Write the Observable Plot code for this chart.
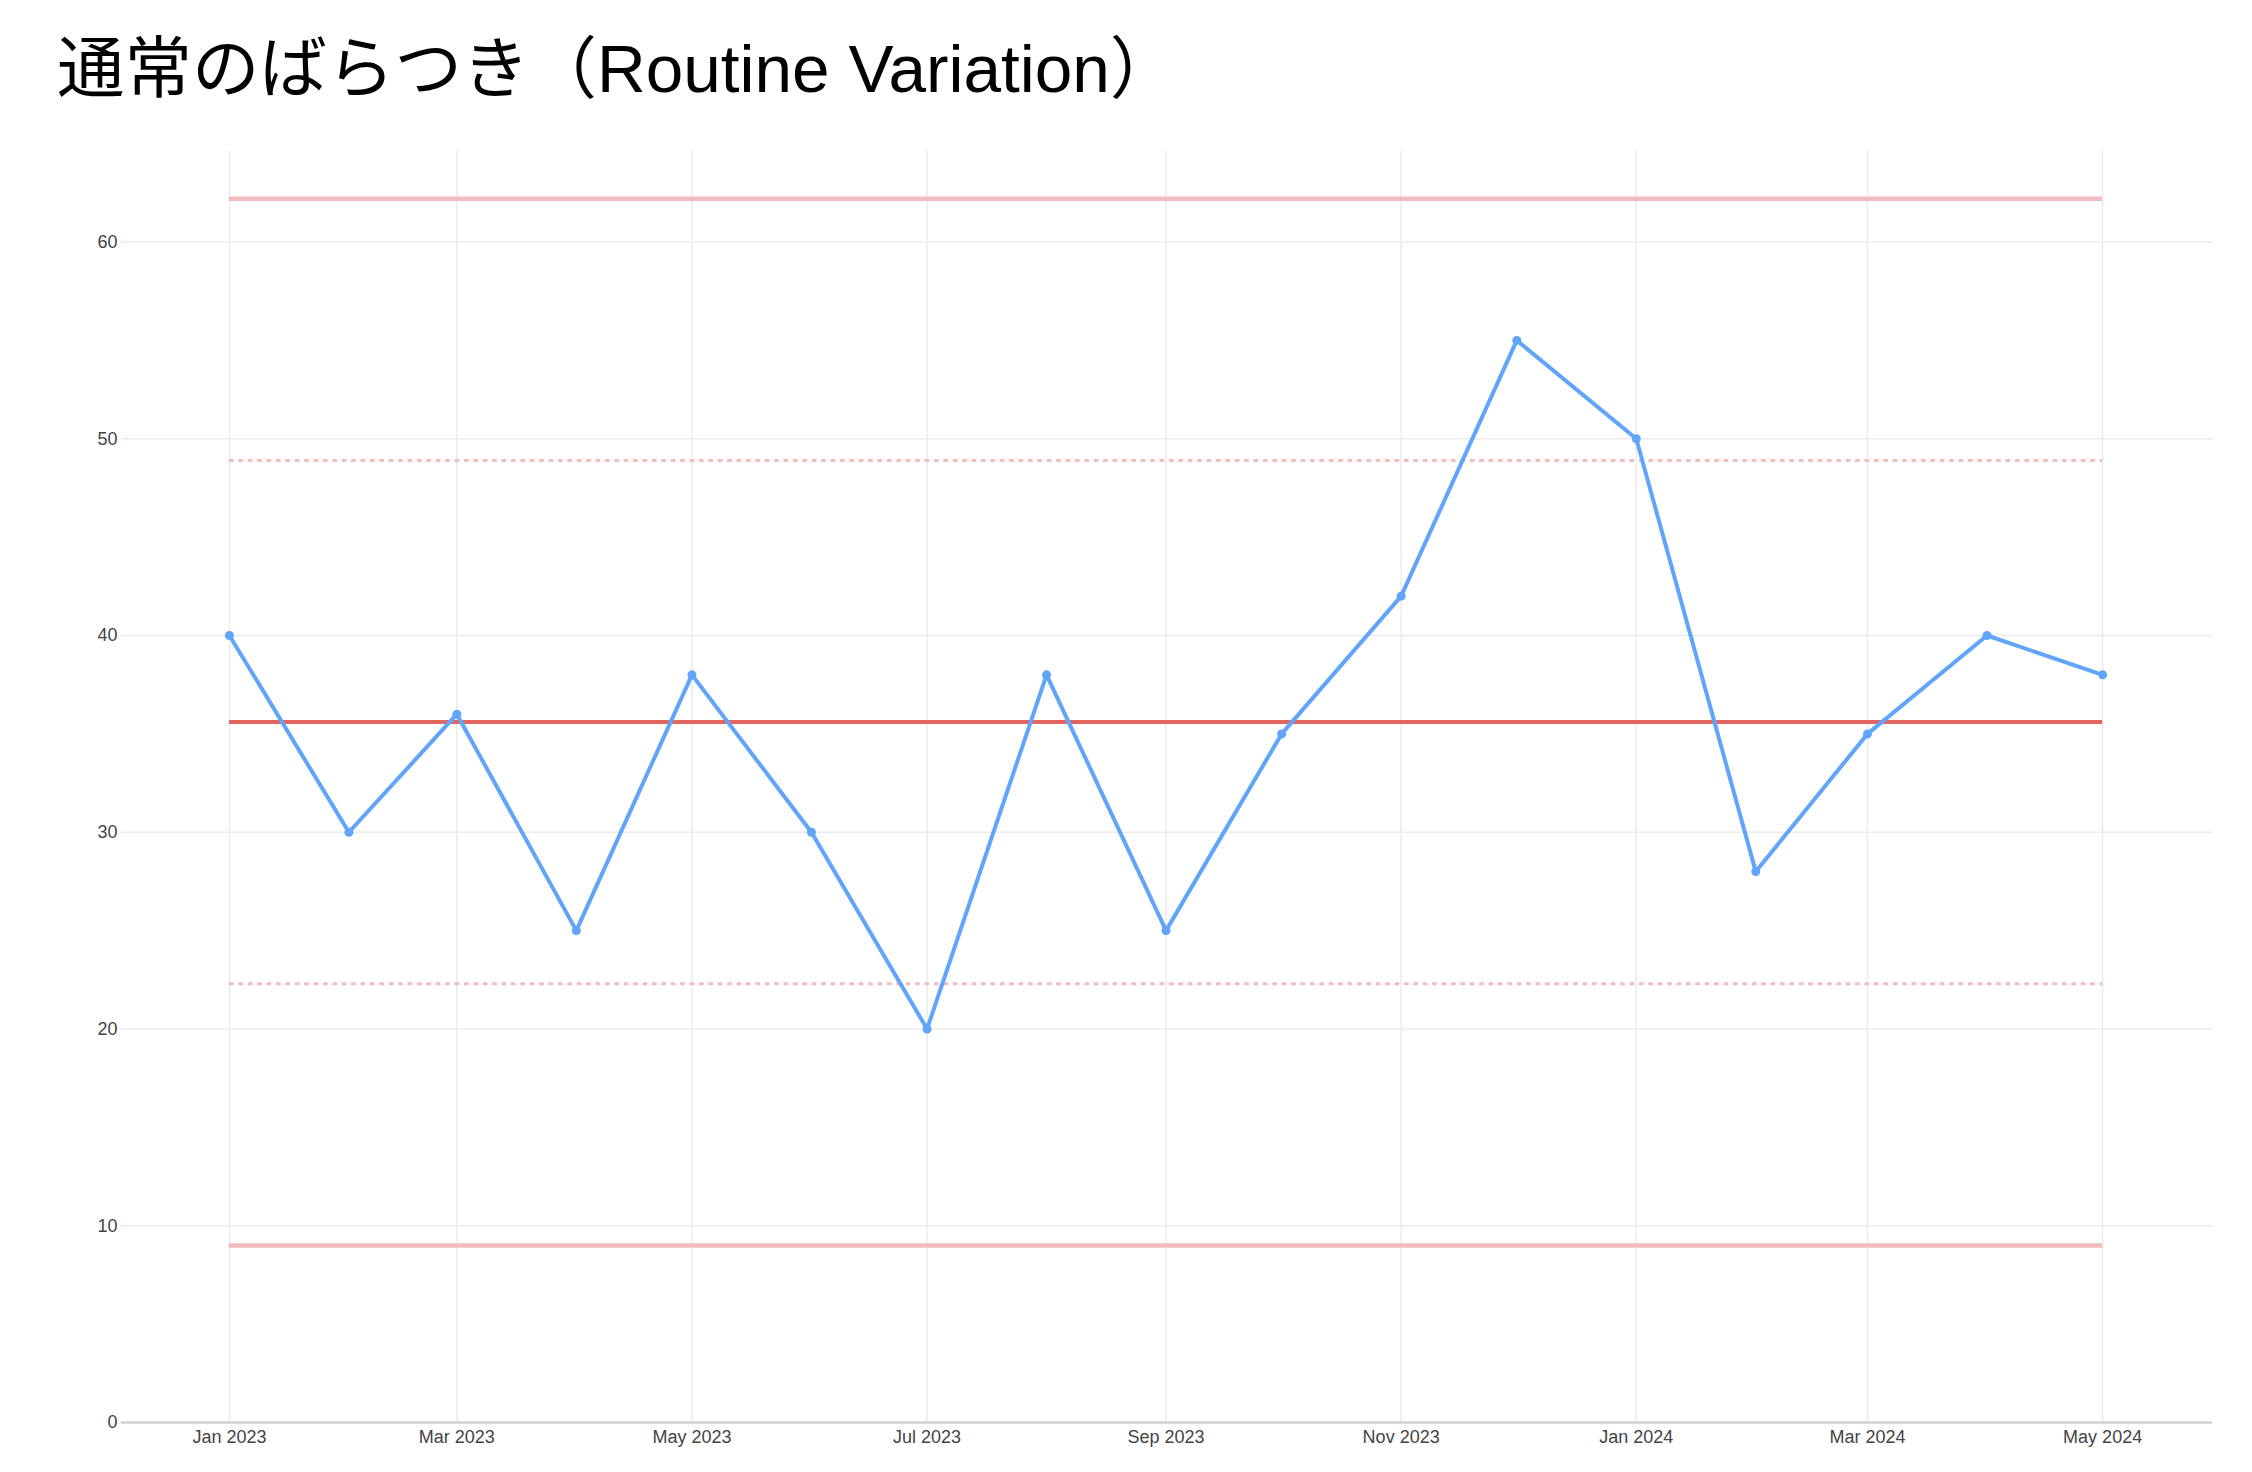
<!DOCTYPE html>
<html>
<head>
<meta charset="utf-8">
<script src="https://cdn.jsdelivr.net/npm/d3@7"></script>
<script src="https://cdn.jsdelivr.net/npm/@observablehq/plot@0.6"></script>
<style>
  html, body { margin: 0; padding: 0; background: #ffffff; }
  #title { display: block; }
  #chart svg { display: block; }
</style>
</head>
<body>
<svg id="title" width="2252" height="120">
  <text x="57" y="92" font-size="67.5" fill="#000" style="font-family: 'Liberation Sans', Arial, 'Noto Sans CJK JP', sans-serif;">通常のばらつき（Routine Variation）</text>
</svg>
<div id="chart"></div>
<script>
// ---- data ----
const months = ["2023-01","2023-02","2023-03","2023-04","2023-05","2023-06","2023-07","2023-08","2023-09","2023-10","2023-11","2023-12","2024-01","2024-02","2024-03","2024-04","2024-05"];
const values = [40, 30, 36, 25, 38, 30, 20, 38, 25, 35, 42, 55, 50, 28, 35, 40, 38];
const centerLine = [35.6];
const controlLimits = [62.2, 9.0];
const innerLimits = [48.9, 22.3];
const xTickMonths = ["2023-01","2023-03","2023-05","2023-07","2023-09","2023-11","2024-01","2024-03","2024-05"];
const yTicks = [0, 10, 20, 30, 40, 50, 60];
const xDomain = ["2022-12-04T00", "2024-05-29T12"];
const yDomain = [0, 64.6];

const parseMonth = d3.utcParse("%Y-%m");
const parseDay = d3.utcParse("%Y-%m-%dT%H");
const data = months.map((m, i) => ({date: parseMonth(m), value: values[i]}));
const xTicks = xTickMonths.map(parseMonth);
const first = data[0].date;
const last = data[data.length - 1].date;

const chart = Plot.plot({
  width: 2252,
  height: 1352,
  marginTop: 31,
  marginBottom: 50,
  marginLeft: 121,
  marginRight: 40,
  style: {
    fontFamily: "'Liberation Sans', Arial, sans-serif",
    fontSize: "18px",
    color: "#444",
    background: "#ffffff"
  },
  x: {type: "utc", domain: xDomain.map(parseDay)},
  y: {domain: yDomain},
  marks: [
    Plot.gridX(xTicks, {stroke: "#ebebeb", strokeOpacity: 1, strokeWidth: 1.5}),
    Plot.gridY(yTicks, {stroke: "#ebebeb", strokeOpacity: 1, strokeWidth: 1.5}),
    Plot.ruleY([0], {stroke: "#d2d2d2", strokeWidth: 2.5}),
    Plot.axisX(xTicks, {tickSize: 0, tickPadding: 8, tickFormat: d3.utcFormat("%b %Y"), label: null, fill: "#444"}),
    Plot.axisY(yTicks, {tickSize: 0, tickPadding: 4, label: null, fill: "#444"}),
    Plot.ruleY(controlLimits, {x1: () => first, x2: () => last, stroke: "#f3bcbc", strokeWidth: 4.5}),
    Plot.ruleY(innerLimits, {x1: () => first, x2: () => last, stroke: "#f3bcbc", strokeWidth: 3, strokeDasharray: "4.7,4.7"}),
    Plot.ruleY(centerLine, {x1: () => first, x2: () => last, stroke: "#e2665f", strokeWidth: 4}),
    Plot.line(data, {x: "date", y: "value", stroke: "#60a5fa", strokeWidth: 4, strokeLinejoin: "round"}),
    Plot.dot(data, {x: "date", y: "value", r: 4.5, fill: "#60a5fa", stroke: "none"})
  ]
});
document.getElementById("chart").appendChild(chart);
</script>
</body>
</html>
